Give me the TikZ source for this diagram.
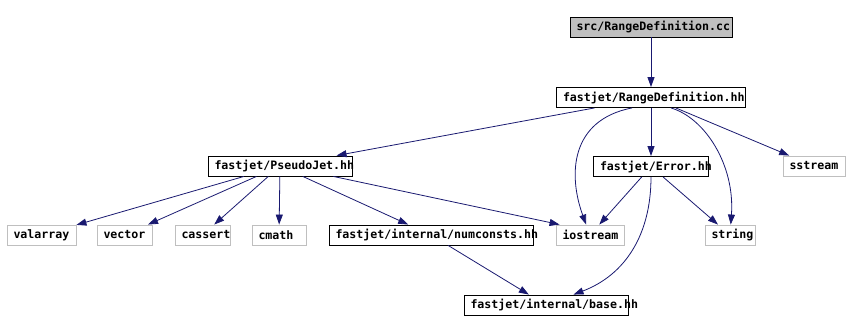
\documentclass[tikz,border=0pt]{standalone}
\usepackage{fontspec}
\setmonofont{DejaVu Sans Mono}
\usetikzlibrary{arrows.meta}
\definecolor{edgeblue}{HTML}{191970}
\definecolor{lgray}{HTML}{BFBFBF}
\newcommand\boxlbl[2]{\makebox[#1][l]{\hspace*{6.5pt}#2}}
\tikzset{
  base/.style={inner xsep=0pt, inner ysep=0pt, minimum height=20pt, font=\ttfamily\bfseries\fontsize{11.6}{12}\selectfont, line width=0.9pt},
  hdr/.style={base, draw=black},
  sys/.style={base, draw=lgray},
  srcbox/.style={base, draw=black, fill=lgray},
  edge/.style={draw=edgeblue, line width=0.8pt, -{Triangle[length=10pt,width=7pt]}, fill=none},
}
\begin{document}
\begin{tikzpicture}[x=1pt,y=-1pt]
\useasboundingbox (0,0) rectangle (849,332);
\node[srcbox] (cc) at (651,27) {\boxlbl{162pt}{src/RangeDefinition.cc}};
\node[hdr] (rd) at (651,97.5) {\boxlbl{189pt}{fastjet/RangeDefinition.hh}};
\node[hdr] (pj) at (280,166) {\boxlbl{144pt}{fastjet/PseudoJet.hh}};
\node[hdr] (er) at (651,166.5) {\boxlbl{115pt}{fastjet/Error.hh}};
\node[sys] (ss) at (814,166) {\boxlbl{62pt}{sstream}};
\node[sys] (va) at (41.5,235) {\boxlbl{69pt}{valarray}};
\node[sys] (ve) at (124.5,235) {\boxlbl{55pt}{vector}};
\node[sys] (ca) at (202.5,235) {\boxlbl{55pt}{cassert}};
\node[sys] (cm) at (279,235) {\boxlbl{54pt}{cmath}};
\node[hdr] (nc) at (431,235) {\boxlbl{204pt}{fastjet/internal/numconsts.hh}};
\node[sys] (io) at (590,235) {\boxlbl{68pt}{iostream}};
\node[sys] (st) at (730,235) {\boxlbl{50pt}{string}};
\node[hdr] (ba) at (546,305) {\boxlbl{164pt}{fastjet/internal/base.hh}};

\draw[edge] (cc) -- (rd);
\draw[edge] (rd) -- (pj);
\draw[edge] ([xshift=-19pt]rd.south) .. controls (570,120) and (568,175) .. (io);
\draw[edge] (rd) -- (er);
\draw[edge] ([xshift=20pt]rd.south) .. controls (705,118) and (735,165) .. (st);
\draw[edge] (rd) -- (ss);
\draw[edge] (pj) -- (va);
\draw[edge] (pj) -- (ve);
\draw[edge] (pj) -- (ca);
\draw[edge] (pj) -- (cm);
\draw[edge] (pj) -- (nc);
\draw[edge] ([xshift=-19pt]pj.south east) -- ([xshift=4pt]io.north west);
\draw[edge] (er) -- (io);
\draw[edge] (er) -- (st);
\draw[edge] (er.south) .. controls (651,235) and (625,275) .. (ba);
\draw[edge] (nc) -- (ba);
\end{tikzpicture}
\end{document}
